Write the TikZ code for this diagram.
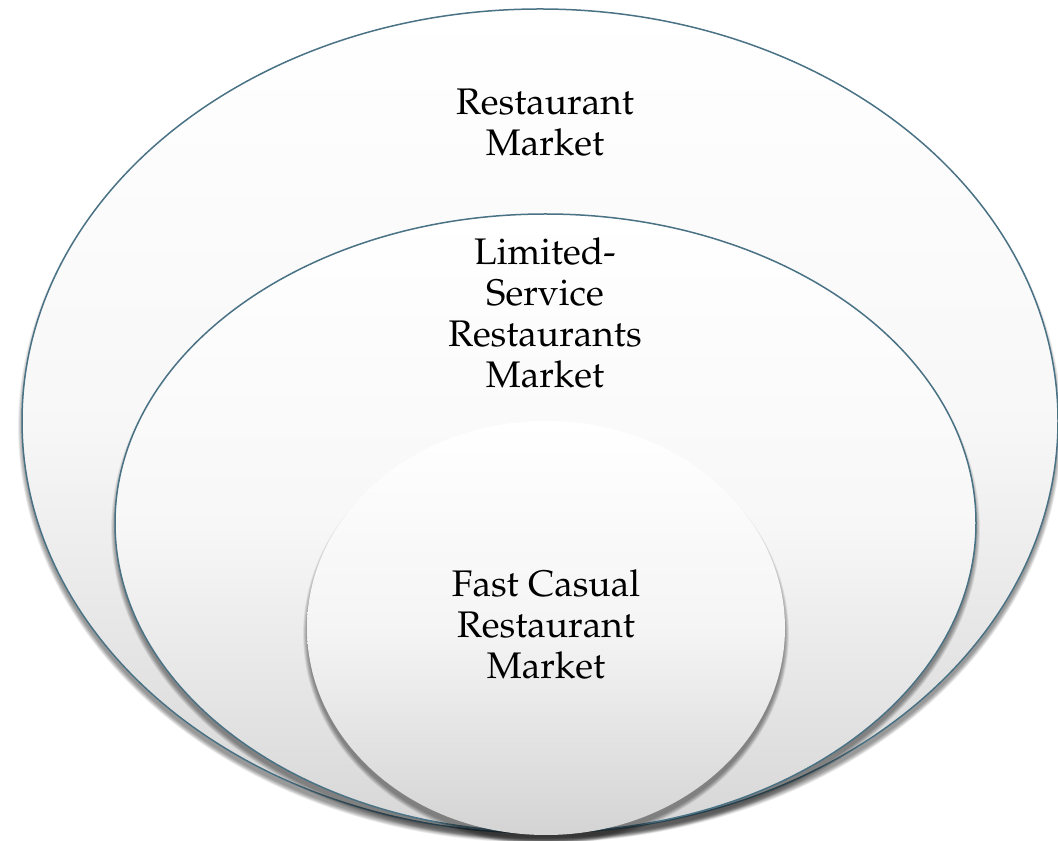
\documentclass[tikz,border=0pt]{standalone}
\usepackage[T1]{fontenc}
\usepackage{mathpazo}
\usetikzlibrary{shapes.geometric}
\definecolor{rim}{RGB}{74,114,133}
\tikzset{
  ring/.style={ellipse, inner sep=0pt, draw=rim, line width=1.5pt,
               top color=white, bottom color=black!16, middle color=black!3},
  core/.style={ellipse, inner sep=0pt, draw=none,
               top color=white, bottom color=black!17, middle color=black!4},
  lbl/.style={align=center, font=\fontsize{37}{41}\selectfont, text=black},
}
\newcommand{\softshadow}[4]{%
  \foreach \k in {1,...,9}{
    \fill[black, opacity=0.055] (#1,#2-6) ellipse ({#3+\k*0.55-1} and {#4+\k*0.55-1});
  }%
}
\begin{document}
\begin{tikzpicture}[x=1pt,y=1pt]
\useasboundingbox (0,0) rectangle (1058,841);
% outer
\softshadow{540}{420}{518}{412}
\node[ring, minimum width=1036pt, minimum height=824pt] (outer) at (540,420) {};
% middle
\softshadow{545.5}{318}{430.5}{309}
\node[ring, minimum width=861pt, minimum height=618pt] (middle) at (545.5,318) {};
% inner
\softshadow{546}{213}{239}{207}
\node[core, minimum width=478pt, minimum height=414pt] (inner) at (546,213) {};
% labels
\node[lbl] (t1) at (545,718) {Restaurant\\Market};
\node[lbl] (t2) at (545,528) {Limited-\\Service\\Restaurants\\Market};
\node[lbl] (t3) at (546,216) {Fast Casual\\Restaurant\\Market};
\end{tikzpicture}
\end{document}
